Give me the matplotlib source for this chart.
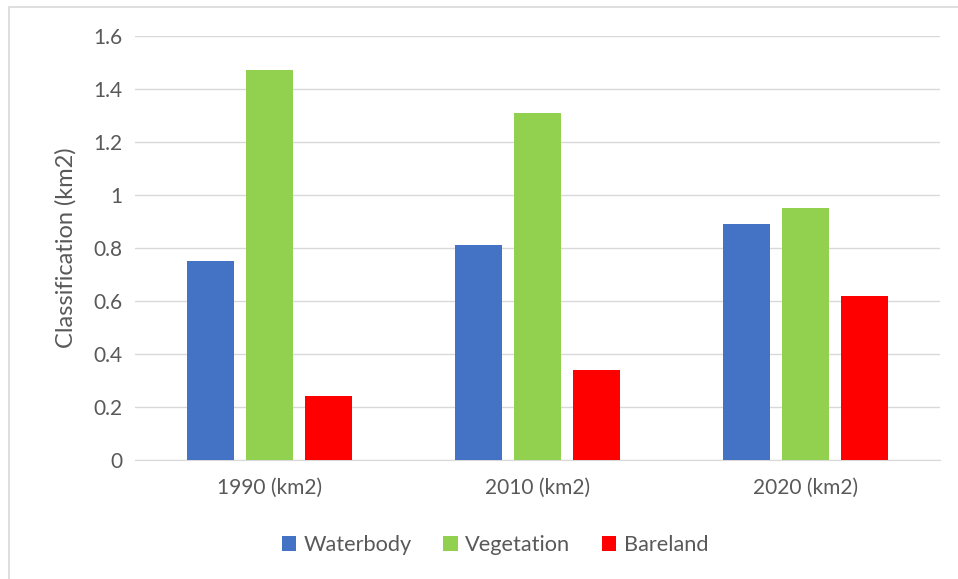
import numpy as np
import matplotlib.pyplot as plt
from matplotlib.patches import Rectangle

years = ['1990 (km2)', '2010 (km2)', '2020 (km2)']
series = ['Waterbody', 'Vegetation', 'Bareland']
waterbody = [0.75, 0.81, 0.89]
vegetation = [1.47, 1.31, 0.95]
bareland = [0.24, 0.34, 0.62]
colors = ['#4472C4', '#92D050', '#FF0000']

plt.rcParams['font.family'] = ['Lato', 'DejaVu Sans']
txt = '#595959'

fig = plt.figure(figsize=(9.58, 5.79), dpi=100)
ax = fig.add_axes([135 / 958, 119 / 579, 805 / 958, 424 / 579])

x = np.arange(len(years))
offsets = [-0.22, 0, 0.22]
for vals, name, c, off in zip([waterbody, vegetation, bareland], series, colors, offsets):
    ax.bar(x + off, vals, width=0.175, color=c, label=name, zorder=3)

ax.set_xlim(-0.5, 2.5)
ax.set_ylim(0, 1.6)
ax.set_yticks(np.arange(0, 1.61, 0.2))
ax.set_yticklabels(['0', '0.2', '0.4', '0.6', '0.8', '1', '1.2', '1.4', '1.6'])
ax.set_xticks(x)
ax.set_xticklabels(years)
ax.grid(axis='y', color='#D9D9D9', linewidth=1, zorder=0)
for s in ['top', 'right', 'left']:
    ax.spines[s].set_visible(False)
ax.spines['bottom'].set_color('#D9D9D9')
ax.tick_params(axis='both', length=0, colors=txt, labelsize=15, pad=9)
ax.tick_params(axis='x', pad=13)
ax.set_ylabel('Classification (km2)', color=txt, fontsize=17, labelpad=12)

fig.legend(loc='center', bbox_to_anchor=(495 / 958, 1 - 545 / 579), ncol=3,
           frameon=False, fontsize=15.7, labelcolor=txt, handlelength=0.65,
           handleheight=0.65, columnspacing=1.45, handletextpad=0.35)

fig.patches.append(Rectangle((9 / 958, -0.1), 1.2, 1.1 - 7 / 579,
                             transform=fig.transFigure, fill=False,
                             edgecolor='#D9D9D9', linewidth=1.2))

fig.savefig('out.png', dpi=100)
